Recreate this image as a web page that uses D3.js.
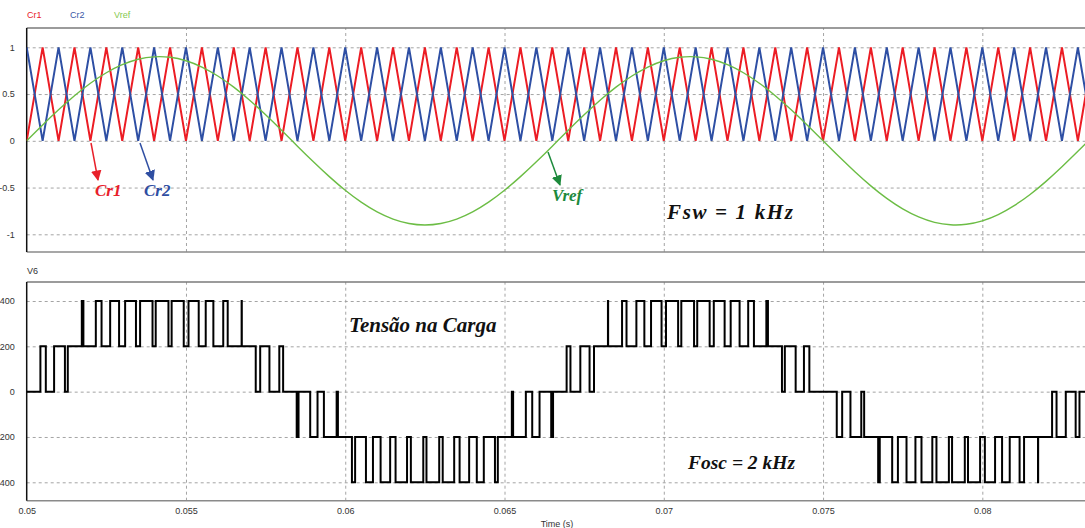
<!DOCTYPE html>
<html>
<head>
<meta charset="utf-8">
<script src="https://cdn.jsdelivr.net/npm/d3@7"></script>
<style>
  body { margin: 0; background: #fff; }
  svg { display: block; }
  .tick text { font-family: Arial, "Liberation Sans", sans-serif; font-size: 9px; fill: #333; }
  .note { font-family: "Liberation Serif", "Times New Roman", serif; font-style: italic; font-weight: bold; }
</style>
</head>
<body>
<script>
// carrier / reference sample instants (s)
const sampleTimes = [
  0.05,0.0505,0.051,0.0515,0.052,0.0525,0.053,0.0535,0.054,0.0545,
  0.055,0.0555,0.056,0.0565,0.057,0.0575,0.058,0.0585,0.059,0.0595,
  0.06,0.0605,0.061,0.0615,0.062,0.0625,0.063,0.0635,0.064,0.0645,
  0.065,0.0655,0.066,0.0665,0.067,0.0675,0.068,0.0685,0.069,0.0695,
  0.07,0.0705,0.071,0.0715,0.072,0.0725,0.073,0.0735,0.074,0.0745,
  0.075,0.0755,0.076,0.0765,0.077,0.0775,0.078,0.0785,0.079,0.0795,
  0.08,0.0805,0.081,0.0815,0.082,0.0825,0.083,0.0835
];
const cr1 = [
  0,1,0,1,0,1,0,1,0,1, 0,1,0,1,0,1,0,1,0,1, 0,1,0,1,0,1,0,1,0,1,
  0,1,0,1,0,1,0,1,0,1, 0,1,0,1,0,1,0,1,0,1, 0,1,0,1,0,1,0,1,0,1,
  0,1,0,1,0,1,0,1
];
const cr2 = [
  1,0,1,0,1,0,1,0,1,0, 1,0,1,0,1,0,1,0,1,0, 1,0,1,0,1,0,1,0,1,0,
  1,0,1,0,1,0,1,0,1,0, 1,0,1,0,1,0,1,0,1,0, 1,0,1,0,1,0,1,0,1,0,
  1,0,1,0,1,0,1,0
];
const vref = [
  0,0.169,0.331,0.482,0.616,0.728,0.814,0.872,0.898,0.893,
  0.856,0.789,0.693,0.574,0.434,0.278,0.113,-0.057,-0.224,-0.383,
  -0.529,-0.656,-0.760,-0.837,-0.884,-0.900,-0.884,-0.837,-0.760,-0.656,
  -0.529,-0.383,-0.224,-0.057,0.113,0.278,0.434,0.574,0.693,0.789,
  0.856,0.893,0.898,0.872,0.814,0.728,0.616,0.482,0.331,0.169,
  0,-0.169,-0.331,-0.482,-0.616,-0.728,-0.814,-0.872,-0.898,-0.893,
  -0.856,-0.789,-0.693,-0.574,-0.434,-0.278,-0.113,0.057
];

// load voltage V6, steps [time (s), level (V)]
const v6Half1 = [
  [0.05,0],[0.05043,200],[0.05060,0],[0.05086,200],[0.05120,0],[0.05129,200],
  [0.05173,400],[0.05178,200],[0.05217,400],[0.05235,200],[0.05262,400],[0.05290,200],
  [0.05309,400],[0.05343,200],[0.05356,400],[0.05395,200],[0.05405,400],[0.05445,200],
  [0.05455,400],[0.05493,200],[0.05508,400],[0.05540,200],[0.05562,400],[0.05586,200],
  [0.05617,400],[0.05631,200],[0.056747,400],[0.056753,200],[0.05719,0],[0.05733,200],
  [0.05762,0],[0.05793,200],[0.05805,0]
];
const v6Half2 = [
  [0.058476,-200],[0.058534,0],[0.05890,-200],[0.05913,0],[0.05933,-200],[0.05973,0],
  [0.05977,-200],[0.06021,-400],[0.06031,-200],[0.06065,-400],[0.06087,-200],[0.06111,-400],
  [0.06141,-200],[0.06158,-400],[0.06194,-200],[0.06206,-400],[0.06245,-200],[0.06255,-400],
  [0.06295,-200],[0.06306,-400],[0.06342,-200],[0.06359,-400],[0.06389,-200],[0.06413,-400],
  [0.06435,-200],[0.06470,-400],[0.06479,-200],[0.06523,0],[0.06527,-200],[0.06567,0],
  [0.06587,-200],[0.06610,0],[0.066466,-200],[0.066524,0]
];
const v6Half3 = [
  [0.06695,200],[0.06707,0],[0.06738,200],[0.06767,0],[0.06781,200],[0.068247,400],
  [0.068253,200],[0.06869,400],[0.06883,200],[0.06914,400],[0.06939,200],[0.06960,400],
  [0.06993,200],[0.07007,400],[0.07045,200],[0.07055,400],[0.07095,200],[0.07105,400],
  [0.07144,200],[0.07157,400],[0.07191,200],[0.07210,400],[0.07238,200],[0.07265,400],
  [0.07283,200],[0.07322,400],[0.07327,200],[0.07371,0],[0.07380,200],[0.07414,0],
  [0.07440,200],[0.07457,0]
];
const v6Half4 = [
  [0.07543,-200],[0.07560,0],[0.07586,-200],[0.07620,0],[0.07629,-200],[0.07673,-400],
  [0.07678,-200],[0.07717,-400],[0.07735,-200],[0.07762,-400],[0.07790,-200],[0.07809,-400],
  [0.07843,-200],[0.07856,-400],[0.07895,-200],[0.07905,-400],[0.07945,-200],[0.07955,-400],
  [0.07993,-200],[0.08008,-400],[0.08040,-200],[0.08062,-400],[0.08086,-200],[0.08117,-400],
  [0.08131,-200],[0.081747,-400],[0.081753,-200],[0.08219,0],[0.08233,-200],[0.08262,0],
  [0.08293,-200],[0.08305,0],[0.08335,0]
];

const timeTicks = [0.05,0.055,0.06,0.065,0.07,0.075,0.08];
const topTicks = [1,0.5,0,-0.5,-1];
const bottomTicks = [400,200,0,-200,-400];

const W = 1085, H = 528;
const left = 26.7;
const topPanel = {y0: 28, y1: 252};
const botPanel = {y0: 282, y1: 500.7};

const svg = d3.select('body').append('svg').attr('width', W).attr('height', H);

const x = d3.scaleLinear().domain([0.05, 0.08333]).range([left, 1088.4]);
const yTop = d3.scaleLinear().domain([-1, 1]).range([234.3, 47.3]);
const yBot = d3.scaleLinear().domain([-400, 400]).range([482.3, 301]);

const defs = svg.append('defs');
[['clipTop', topPanel], ['clipBot', botPanel]].forEach(([id, p]) => {
  defs.append('clipPath').attr('id', id).append('rect')
    .attr('x', left).attr('y', p.y0).attr('width', W - left).attr('height', p.y1 - p.y0);
});
[['arRed', '#e8202a'], ['arBlue', '#2f4ea2'], ['arGreen', '#1d8a3c']].forEach(([id, c]) => {
  defs.append('marker').attr('id', id).attr('viewBox', '0 0 10 10').attr('refX', 9).attr('refY', 5)
    .attr('markerWidth', 7).attr('markerHeight', 7).attr('orient', 'auto')
    .append('path').attr('d', 'M0,0 L10,5 L0,10 z').attr('fill', c);
});

function styleGrid(g) {
  g.select('.domain').remove();
  g.selectAll('.tick line').attr('stroke', '#a4a4a4').attr('stroke-dasharray', '3,3').attr('stroke-width', 1);
}

// horizontal grids + y labels
svg.append('g').attr('transform', `translate(${left},0)`)
  .call(d3.axisLeft(yTop).tickValues(topTicks).tickSize(-(W - left)).tickPadding(12).tickFormat(d => String(d)))
  .call(styleGrid);
svg.append('g').attr('transform', `translate(${left},0)`)
  .call(d3.axisLeft(yBot).tickValues(bottomTicks).tickSize(-(W - left)).tickPadding(12).tickFormat(d => String(d)))
  .call(styleGrid);

// vertical grids
svg.append('g').attr('transform', `translate(0,${topPanel.y1})`)
  .call(d3.axisBottom(x).tickValues(timeTicks.slice(1)).tickSize(-(topPanel.y1 - topPanel.y0)).tickFormat(''))
  .call(styleGrid);
svg.append('g').attr('transform', `translate(0,${botPanel.y1})`)
  .call(d3.axisBottom(x).tickValues(timeTicks).tickSize(-(botPanel.y1 - botPanel.y0)).tickPadding(7).tickFormat(d => String(d)))
  .call(styleGrid)
  .call(g => g.select('.tick line').remove());

// frames
[topPanel, botPanel].forEach(p => {
  svg.append('line').attr('x1', left).attr('x2', W).attr('y1', p.y0).attr('y2', p.y0).attr('stroke', '#7a7a7a').attr('stroke-width', 1.5);
  svg.append('line').attr('x1', left).attr('x2', W).attr('y1', p.y1).attr('y2', p.y1).attr('stroke', '#8a8a8a').attr('stroke-width', 1.5);
  svg.append('line').attr('x1', left).attr('x2', left).attr('y1', p.y0).attr('y2', p.y1).attr('stroke', '#111').attr('stroke-width', 1.5);
});

// top panel traces
const topG = svg.append('g').attr('clip-path', 'url(#clipTop)');
const lineTop = vals => d3.line().x((d, i) => x(sampleTimes[i])).y(d => yTop(d))(vals);
topG.append('path').attr('d', lineTop(cr1)).attr('fill', 'none').attr('stroke', '#ec1c24').attr('stroke-width', 2);
topG.append('path').attr('d', lineTop(cr2)).attr('fill', 'none').attr('stroke', '#2e4fa4').attr('stroke-width', 2);
topG.append('path')
  .attr('d', d3.line().x((d, i) => x(sampleTimes[i])).y(d => yTop(d)).curve(d3.curveNatural)(vref))
  .attr('fill', 'none').attr('stroke', '#6cbd45').attr('stroke-width', 1.4);

// bottom panel trace
const v6 = [].concat(v6Half1, v6Half2, v6Half3, v6Half4);
svg.append('g').attr('clip-path', 'url(#clipBot)').append('path')
  .attr('d', d3.line().x(d => x(d[0])).y(d => yBot(d[1])).curve(d3.curveStepAfter)(v6))
  .attr('fill', 'none').attr('stroke', '#000').attr('stroke-width', 2);

// legend / titles
const small = (t, xx, yy, c) => svg.append('text').text(t).attr('x', xx).attr('y', yy)
  .attr('font-family', 'Arial, "Liberation Sans", sans-serif').attr('font-size', 9).attr('fill', c);
small('Cr1', 27, 18, '#e8202a');
small('Cr2', 70, 18, '#3a57a6');
small('Vref', 114, 18, '#86c950');
small('V6', 27, 274, '#333');
small('Time (s)', 557, 527, '#333').attr('text-anchor', 'middle');

// annotations
const note = (t, xx, yy, c, fs) => svg.append('text').attr('class', 'note').text(t)
  .attr('x', xx).attr('y', yy).attr('fill', c).attr('font-size', fs);
const arrow = (x1, y1, x2, y2, c, m) => svg.append('line').attr('x1', x1).attr('y1', y1).attr('x2', x2).attr('y2', y2)
  .attr('stroke', c).attr('stroke-width', 1.5).attr('marker-end', `url(#${m})`);
arrow(91, 143, 98, 180, '#e8202a', 'arRed');
arrow(140, 143, 153, 180, '#2f4ea2', 'arBlue');
arrow(548, 152, 560, 185, '#1d8a3c', 'arGreen');
note('Cr1', 95, 196, '#e8202a', 17);
note('Cr2', 144, 196, '#2f4ea2', 17);
note('Vref', 552, 201, '#1d8a3c', 17);
note('Fsw = 1 kHz', 667, 219, '#111', 21).attr('textLength', 126).attr('lengthAdjust', 'spacing');
note('Tensão na Carga', 349, 332, '#111', 21);
note('Fosc = 2 kHz', 688, 469, '#111', 19.5);
</script>
</body>
</html>
